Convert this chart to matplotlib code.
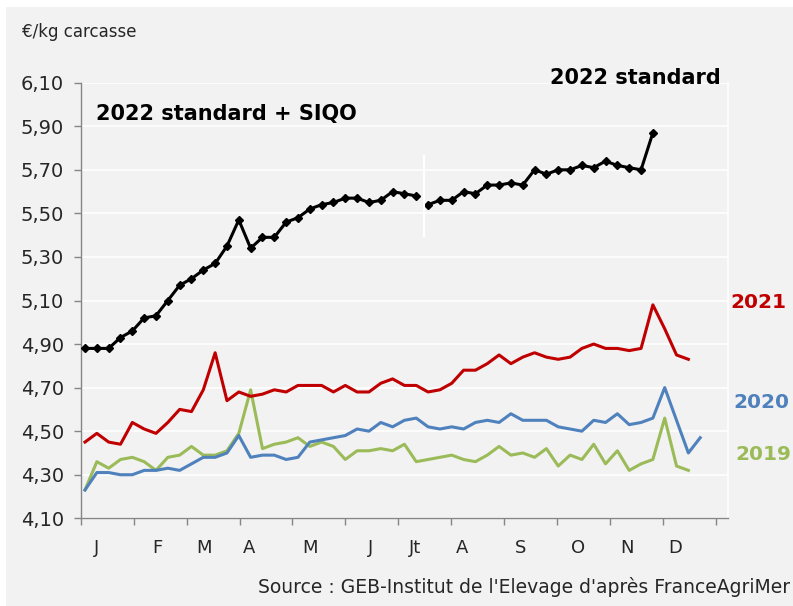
import numpy as np
import matplotlib
matplotlib.use("Agg")
import matplotlib.pyplot as plt
from matplotlib.patches import Rectangle
from matplotlib.ticker import FuncFormatter

# ------------------- DATA -------------------
# weekly carcass prices, €/kg (week 1 = first week of January)
prix_2019 = [4.23, 4.36, 4.33, 4.37, 4.38, 4.36, 4.32, 4.38, 4.39, 4.43,
             4.39, 4.39, 4.41, 4.49, 4.69, 4.42, 4.44, 4.45, 4.47, 4.43,
             4.45, 4.43, 4.37, 4.41, 4.41, 4.42, 4.41, 4.44, 4.36, 4.37,
             4.38, 4.39, 4.37, 4.36, 4.39, 4.43, 4.39, 4.40, 4.38, 4.42,
             4.34, 4.39, 4.37, 4.44, 4.35, 4.41, 4.32, 4.35, 4.37, 4.56,
             4.34, 4.32]
prix_2020 = [4.23, 4.31, 4.31, 4.30, 4.30, 4.32, 4.32, 4.33, 4.32, 4.35,
             4.38, 4.38, 4.40, 4.48, 4.38, 4.39, 4.39, 4.37, 4.38, 4.45,
             4.46, 4.47, 4.48, 4.51, 4.50, 4.54, 4.52, 4.55, 4.56, 4.52,
             4.51, 4.52, 4.51, 4.54, 4.55, 4.54, 4.58, 4.55, 4.55, 4.55,
             4.52, 4.51, 4.50, 4.55, 4.54, 4.58, 4.53, 4.54, 4.56, 4.70,
             4.55, 4.40, 4.47]
prix_2021 = [4.45, 4.49, 4.45, 4.44, 4.54, 4.51, 4.49, 4.54, 4.60, 4.59,
             4.69, 4.86, 4.64, 4.68, 4.66, 4.67, 4.69, 4.68, 4.71, 4.71,
             4.71, 4.68, 4.71, 4.68, 4.68, 4.72, 4.74, 4.71, 4.71, 4.68,
             4.69, 4.72, 4.78, 4.78, 4.81, 4.85, 4.81, 4.84, 4.86, 4.84,
             4.83, 4.84, 4.88, 4.90, 4.88, 4.88, 4.87, 4.88, 5.08, 4.97,
             4.85, 4.83]
# 2022: standard + SIQO up to week 29, standard only afterwards
prix_2022_siqo = [4.88, 4.88, 4.88, 4.93, 4.96, 5.02, 5.03, 5.10, 5.17, 5.20,
                  5.24, 5.27, 5.35, 5.47, 5.34, 5.39, 5.39, 5.46, 5.48, 5.52,
                  5.54, 5.55, 5.57, 5.57, 5.55, 5.56, 5.60, 5.59, 5.58]
prix_2022_std = [5.54, 5.56, 5.56, 5.60, 5.59, 5.63, 5.63, 5.64, 5.63, 5.70,
                 5.68, 5.70, 5.70, 5.72, 5.71, 5.74, 5.72, 5.71, 5.70, 5.87]

mois = ["J", "F", "M", "A", "M", "J", "Jt", "A", "S", "O", "N", "D"]
mois_pos = [2.0, 7.1, 11.1, 14.9, 20.0, 25.1, 28.9, 32.9, 37.8, 42.7, 46.8, 50.9]
yticks = np.arange(4.10, 6.11, 0.20)
# ----------------------------------------------

ROUGE = "#C00000"
BLEU = "#4F81BD"
VERT = "#9BBB59"
FOND = "#F2F2F2"

W, H = 793, 606
fig = plt.figure(figsize=(W / 100, H / 100), dpi=100, facecolor="white")
fig.patches.append(Rectangle((6 / W, 0), 1, 1 - 7 / H, transform=fig.transFigure,
                             facecolor=FOND, edgecolor="none", zorder=-10))

ax = fig.add_axes([80.7 / W, 1 - 518.3 / H, (728 - 80.7) / W, (518.3 - 82.7) / H])
ax.set_facecolor(FOND)

semaines = lambda serie, debut=1: np.arange(debut, debut + len(serie))

ax.plot(semaines(prix_2019), prix_2019, color=VERT, lw=2.2, zorder=3)
ax.plot(semaines(prix_2020), prix_2020, color=BLEU, lw=2.2, zorder=3)
ax.plot(semaines(prix_2021), prix_2021, color=ROUGE, lw=2.2, zorder=3)
ax.plot(semaines(prix_2022_siqo), prix_2022_siqo, color="black", lw=2.2,
        marker="D", ms=4.5, zorder=4)
ax.plot(semaines(prix_2022_std, len(prix_2022_siqo) + 1), prix_2022_std,
        color="black", lw=2.2, marker="D", ms=4.5, zorder=4)

# white separator between the two 2022 series
ax.vlines(len(prix_2022_siqo) + 0.66, 5.39, 5.77, color="white", lw=1.5, zorder=5)

ax.set_xlim(0.636, 55.35)
ax.set_ylim(4.10, 6.10)

# y axis
ax.set_yticks(yticks)
ax.yaxis.set_major_formatter(FuncFormatter(lambda v, p: f"{v:.2f}".replace(".", ",")))
ax.tick_params(axis="y", direction="out", length=5, width=1, color="#868686",
               labelsize=14, pad=7, labelcolor="#262626")
ax.grid(axis="y", color="white", lw=1.2, zorder=1)

# x axis: month boundaries as ticks, month names in between
ax.set_xticks(0.636 + np.arange(13) * 4.475)
ax.set_xticklabels([])
ax.set_xticks(mois_pos, minor=True)
ax.set_xticklabels(mois, minor=True)
ax.tick_params(axis="x", which="major", direction="out", length=5, width=1,
               color="#868686")
ax.tick_params(axis="x", which="minor", length=0, labelsize=13, pad=15,
               labelcolor="#262626")

for s in ["left", "bottom"]:
    ax.spines[s].set_color("#868686")
    ax.spines[s].set_linewidth(1)
ax.spines["top"].set_visible(False)
ax.spines["right"].set_color("white")
ax.spines["right"].set_linewidth(1.2)

# labels
def px(x, y):
    return x / W, 1 - y / H

fig.text(*px(22, 32), "€/kg carcasse", fontsize=12, va="center", color="#262626")
fig.text(*px(96, 114), "2022 standard + SIQO", fontsize=15, fontweight="bold",
         va="center")
fig.text(*px(550, 78), "2022 standard", fontsize=15, fontweight="bold", va="center")
fig.text(*px(730, 303), "2021", fontsize=14.5, fontweight="bold", va="center", color=ROUGE)
fig.text(*px(733, 402), "2020", fontsize=14.5, fontweight="bold", va="center", color=BLEU)
fig.text(*px(735, 455), "2019", fontsize=14.5, fontweight="bold", va="center", color=VERT)
fig.text(*px(790, 587), "Source : GEB-Institut de l'Elevage d'après FranceAgriMer",
         fontsize=13.5, ha="right", va="center", color="#262626")

fig.savefig("out.png", dpi=100, facecolor=fig.get_facecolor())
